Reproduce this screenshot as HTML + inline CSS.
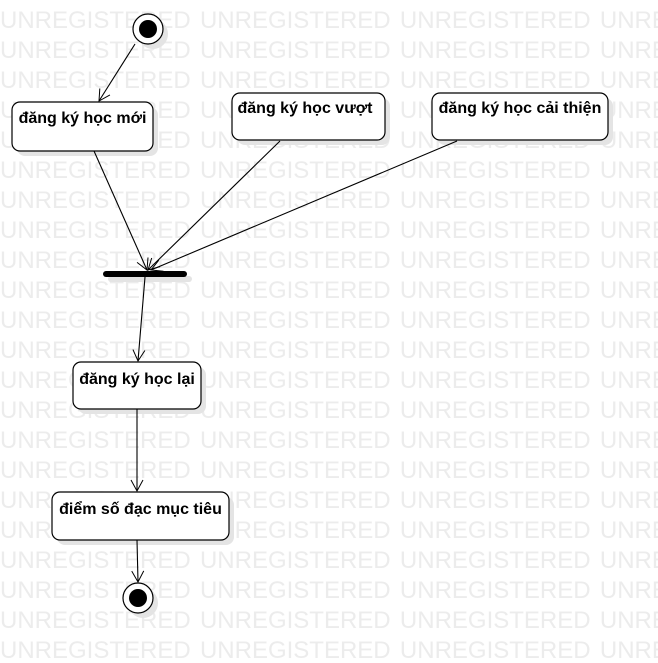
<!DOCTYPE html>
<html><head><meta charset="utf-8"><style>
html,body{margin:0;padding:0;background:#fff;}
svg{display:block}
.wm{font-family:"Liberation Sans",sans-serif;font-size:24px;fill:#ececec;word-spacing:2.6px;}
.lb{font-family:"Liberation Sans","Noto Sans CJK SC",sans-serif;font-size:16px;font-weight:bold;fill:#000;}
</style></head><body>
<svg width="658" height="663" viewBox="0 0 658 663" xmlns="http://www.w3.org/2000/svg">
<defs>
<marker id="a" markerWidth="14" markerHeight="14" refX="12" refY="7" orient="auto" markerUnits="userSpaceOnUse">
<path d="M1,1 L12,7 L1,13" fill="none" stroke="#000" stroke-width="1"/>
</marker>
</defs>
<g class="wm">
<text x="0" y="28">UNREGISTERED UNREGISTERED UNREGISTERED UNREGISTERED</text>
<text x="0" y="58">UNREGISTERED UNREGISTERED UNREGISTERED UNREGISTERED</text>
<text x="0" y="88">UNREGISTERED UNREGISTERED UNREGISTERED UNREGISTERED</text>
<text x="0" y="118">UNREGISTERED UNREGISTERED UNREGISTERED UNREGISTERED</text>
<text x="0" y="148">UNREGISTERED UNREGISTERED UNREGISTERED UNREGISTERED</text>
<text x="0" y="178">UNREGISTERED UNREGISTERED UNREGISTERED UNREGISTERED</text>
<text x="0" y="208">UNREGISTERED UNREGISTERED UNREGISTERED UNREGISTERED</text>
<text x="0" y="238">UNREGISTERED UNREGISTERED UNREGISTERED UNREGISTERED</text>
<text x="0" y="268">UNREGISTERED UNREGISTERED UNREGISTERED UNREGISTERED</text>
<text x="0" y="298">UNREGISTERED UNREGISTERED UNREGISTERED UNREGISTERED</text>
<text x="0" y="328">UNREGISTERED UNREGISTERED UNREGISTERED UNREGISTERED</text>
<text x="0" y="358">UNREGISTERED UNREGISTERED UNREGISTERED UNREGISTERED</text>
<text x="0" y="388">UNREGISTERED UNREGISTERED UNREGISTERED UNREGISTERED</text>
<text x="0" y="418">UNREGISTERED UNREGISTERED UNREGISTERED UNREGISTERED</text>
<text x="0" y="448">UNREGISTERED UNREGISTERED UNREGISTERED UNREGISTERED</text>
<text x="0" y="478">UNREGISTERED UNREGISTERED UNREGISTERED UNREGISTERED</text>
<text x="0" y="508">UNREGISTERED UNREGISTERED UNREGISTERED UNREGISTERED</text>
<text x="0" y="538">UNREGISTERED UNREGISTERED UNREGISTERED UNREGISTERED</text>
<text x="0" y="568">UNREGISTERED UNREGISTERED UNREGISTERED UNREGISTERED</text>
<text x="0" y="598">UNREGISTERED UNREGISTERED UNREGISTERED UNREGISTERED</text>
<text x="0" y="628">UNREGISTERED UNREGISTERED UNREGISTERED UNREGISTERED</text>
<text x="0" y="658">UNREGISTERED UNREGISTERED UNREGISTERED UNREGISTERED</text>
</g>
<g fill="#e4e4e4">
<circle cx="153" cy="34" r="15"/>
<rect x="17" y="107" width="141" height="49" rx="8"/>
<rect x="237" y="98" width="153" height="47" rx="8"/>
<rect x="437" y="98" width="176" height="47" rx="8"/>
<rect x="108" y="276" width="84" height="6" rx="3"/>
<rect x="78" y="367" width="128" height="47" rx="8"/>
<rect x="57" y="497" width="177" height="48" rx="8"/>
<circle cx="143" cy="603" r="15"/>
</g>
<circle cx="148" cy="29" r="15" fill="#fff" stroke="#000" stroke-width="1.2"/>
<circle cx="148" cy="29" r="9" fill="#000"/>
<g fill="#fff" stroke="#000" stroke-width="1.2">
<rect x="12" y="102" width="141" height="49" rx="8"/>
<rect x="232" y="93" width="153" height="47" rx="8"/>
<rect x="432" y="93" width="176" height="47" rx="8"/>
<rect x="73" y="362" width="128" height="47" rx="8"/>
<rect x="52" y="492" width="177" height="48" rx="8"/>
</g>
<rect x="103" y="271" width="84" height="6" rx="3" fill="#000"/>
<circle cx="138" cy="598" r="15" fill="#fff" stroke="#000" stroke-width="1.2"/>
<circle cx="138" cy="598" r="9" fill="#000"/>
<text class="lb" x="82.5" y="123" text-anchor="middle">đăng ký học mới</text>
<text class="lb" x="305" y="113" text-anchor="middle">đăng ký học vượt</text>
<text class="lb" x="520" y="113" text-anchor="middle">đăng ký học cải thiện</text>
<text class="lb" x="137" y="384" text-anchor="middle">đăng ký học lại</text>
<text class="lb" x="140.5" y="514" text-anchor="middle">điểm số đạc mục tiêu</text>
<g stroke="#000" stroke-width="1.1" fill="none" marker-end="url(#a)">
<line x1="135" y1="44" x2="99" y2="101"/>
<line x1="94" y1="151" x2="147" y2="270"/>
<line x1="280" y1="141" x2="148" y2="270"/>
<line x1="457" y1="141" x2="151" y2="270"/>
<line x1="145" y1="277" x2="138" y2="361"/>
<line x1="137" y1="409" x2="137" y2="491"/>
<line x1="137" y1="540" x2="138" y2="582"/>
</g>
</svg>
</body></html>
